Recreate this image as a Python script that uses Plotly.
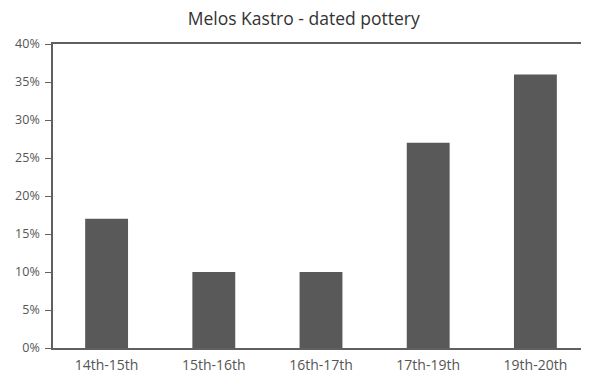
import plotly.graph_objects as go

# Data
periods = ["14th-15th", "15th-16th", "16th-17th", "17th-19th", "19th-20th"]
share = [0.17, 0.10, 0.10, 0.27, 0.36]
y_ticks = [0, 0.05, 0.10, 0.15, 0.20, 0.25, 0.30, 0.35, 0.40]

fig = go.Figure(go.Bar(
    x=periods,
    y=share,
    marker=dict(color="#595959", line=dict(width=0)),
    width=0.4,
))

# page body has an 8px margin, so the figure is sized a bit smaller
fig.update_layout(
    width=581, height=373,
    paper_bgcolor="white", plot_bgcolor="white",
    margin=dict(l=45, r=0, t=36, b=33),
    font=dict(family="Open Sans, Liberation Sans, sans-serif", color="#555555", size=11),
    title=dict(
        text="Melos Kastro - dated pottery",
        x=0.509, xanchor="center", y=0.972, yanchor="middle",
        font=dict(size=17.5, color="#333333"),
    ),
    showlegend=False,
    bargap=0.6,
)

fig.update_xaxes(
    showline=True, linecolor="#606060", linewidth=1.5,
    mirror=True, showgrid=False, ticks="",
    automargin=False, ticklabelstandoff=3,
    tickfont=dict(size=14, color="#555555"),
)

fig.update_yaxes(
    range=[0, 0.40], tickvals=y_ticks, tickformat=".0%",
    showline=True, linecolor="#606060", linewidth=1.5,
    showgrid=False, zeroline=False, automargin=False,
    ticks="outside", ticklen=6, tickcolor="#606060",
    ticklabelstandoff=3,
    tickfont=dict(size=12.5, color="#555555"),
)

fig.write_html("out.html")
